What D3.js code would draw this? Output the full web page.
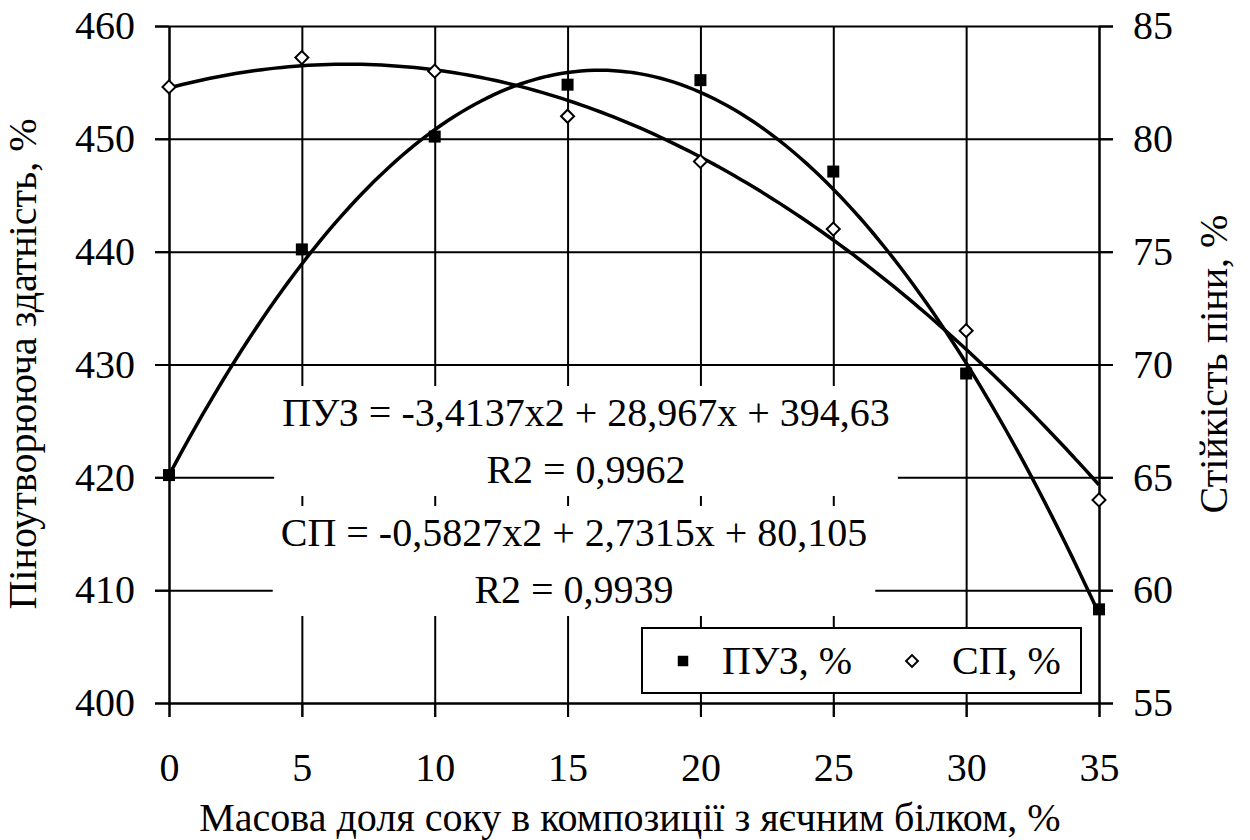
<!DOCTYPE html>
<html>
<head>
<meta charset="utf-8">
<script src="https://cdn.jsdelivr.net/npm/d3@7"></script>
</head>
<body style="margin:0; background:#fff">
<svg id="chart" width="1250" height="840" font-family="Liberation Serif"></svg>
<script>
// data
var shares = [0, 5, 10, 15, 20, 25, 30, 35];
var puz = [420.2, 440.2, 450.2, 454.8, 455.2, 447.1, 429.2, 408.3];
var sp = [82.3, 83.6, 83.0, 81.0, 79.0, 76.0, 71.5, 64.0];
var leftTicks = [400, 410, 420, 430, 440, 450, 460];
var rightTicks = [55, 60, 65, 70, 75, 80, 85];
// trendline coefficients as printed (x = point number 1..8)
var puzCoef = [-3.4137, 28.967, 394.63];
var spCoef = [-0.5827, 2.7315, 80.105];
var puzLabel = ["ПУЗ = -3,4137x2 + 28,967x + 394,63", "R2 = 0,9962"];
var spLabel = ["СП = -0,5827x2 + 2,7315x + 80,105", "R2 = 0,9939"];
var legendNames = ["ПУЗ, %", "СП, %"];

var svg = d3.select("#chart");
var pLeft = 169, pRight = 1099, pTop = 26, pBottom = 703;
var fontPx = 40;

var xScale = d3.scaleLinear().domain([0, 35]).range([pLeft, pRight]);
var yL = d3.scaleLinear().domain([400, 460]).range([pBottom, pTop]);
var yR = d3.scaleLinear().domain([55, 85]).range([pBottom, pTop]);

function setFont(sel) {
    sel.attr("font-family", "Liberation Serif")
        .style("font-family", "Liberation Serif")
        .style("font-size", fontPx + "px")
        .attr("fill", "#000");
}

function noLabels(g) {
    g.select(".domain").remove();
    g.selectAll("text").remove();
    g.selectAll("line").attr("stroke", "#000").attr("stroke-width", 2);
}

// horizontal grid, running out past both axes as ticks
svg.append("g")
    .attr("transform", "translate(" + (pRight + 14) + ",0)")
    .call(d3.axisLeft(yL).tickValues(leftTicks).tickSize(pRight - pLeft + 28))
    .call(noLabels);

// vertical grid with ticks below the axis
svg.append("g")
    .attr("transform", "translate(0," + (pBottom + 14) + ")")
    .call(d3.axisTop(xScale).tickValues(shares).tickSize(pBottom - pTop + 14))
    .call(noLabels);

function styleAxis(g) {
    g.attr("font-family", "Liberation Serif");
    g.select(".domain").attr("stroke", "#000").attr("stroke-width", 2);
    g.selectAll("line").attr("stroke", "#000").attr("stroke-width", 2);
    g.selectAll("text").call(setFont);
}

svg.append("g")
    .attr("transform", "translate(" + pLeft + ",0)")
    .call(d3.axisLeft(yL).tickValues(leftTicks).tickSize(14).tickPadding(20).tickSizeOuter(0))
    .call(styleAxis);

svg.append("g")
    .attr("transform", "translate(" + pRight + ",0)")
    .call(d3.axisRight(yR).tickValues(rightTicks).tickSize(14).tickPadding(20).tickSizeOuter(0))
    .call(styleAxis);

svg.append("g")
    .attr("transform", "translate(0," + pBottom + ")")
    .call(d3.axisBottom(xScale).tickValues(shares).tickSize(14).tickPadding(36).tickSizeOuter(0))
    .call(styleAxis);

// axis titles
svg.append("text")
    .attr("transform", "translate(36,364) rotate(-90)")
    .attr("text-anchor", "middle")
    .call(setFont)
    .text("Піноутворююча здатність, %");

svg.append("text")
    .attr("transform", "translate(1227,364) rotate(-90)")
    .attr("text-anchor", "middle")
    .call(setFont)
    .text("Стійкість піни, %");

svg.append("text")
    .attr("x", 630).attr("y", 831)
    .attr("text-anchor", "middle")
    .call(setFont)
    .text("Масова доля соку в композиції з яєчним білком, %");

// trendlines from the printed equations
function trend(coef) {
    var pts = d3.range(1, 8.001, 0.05);
    return pts.map(function (i) {
        return [(i - 1) * 5, coef[0] * i * i + coef[1] * i + coef[2]];
    });
}

var lineL = d3.line().x(function (d) { return xScale(d[0]); }).y(function (d) { return yL(d[1]); });
var lineR = d3.line().x(function (d) { return xScale(d[0]); }).y(function (d) { return yR(d[1]); });

svg.append("path").datum(trend(puzCoef))
    .attr("d", lineL).attr("fill", "none").attr("stroke", "#000").attr("stroke-width", 3.5);
svg.append("path").datum(trend(spCoef))
    .attr("d", lineR).attr("fill", "none").attr("stroke", "#000").attr("stroke-width", 3.5);

// markers
var square = d3.symbol().type(d3.symbolSquare).size(144);
var diamond = d3.symbol().type(d3.symbolSquare).size(85);

svg.selectAll(".puz").data(shares).enter().append("path")
    .attr("class", "puz")
    .attr("d", square)
    .attr("transform", function (d, i) { return "translate(" + xScale(d) + "," + yL(puz[i]) + ")"; })
    .attr("fill", "#000");

svg.selectAll(".sp").data(shares).enter().append("path")
    .attr("class", "sp")
    .attr("d", diamond)
    .attr("transform", function (d, i) { return "translate(" + xScale(d) + "," + yR(sp[i]) + ") rotate(45)"; })
    .attr("fill", "#fff").attr("stroke", "#000").attr("stroke-width", 2);

// equation labels on white boxes
function eqLabel(lines, cx, baselines) {
    var g = svg.append("g");
    var bg = g.append("rect").attr("fill", "#fff");
    g.selectAll("text").data(lines).enter().append("text")
        .attr("x", cx)
        .attr("y", function (d, i) { return baselines[i]; })
        .attr("text-anchor", "middle")
        .call(setFont)
        .text(function (d) { return d; });
    var bb = g.node().getBBox();
    bg.attr("x", bb.x - 8).attr("y", bb.y - 4).attr("width", bb.width + 16).attr("height", bb.height + 8);
}
eqLabel(puzLabel, 586, [426, 483]);
eqLabel(spLabel, 574, [546, 603]);

// legend
var leg = svg.append("g");
leg.append("rect")
    .attr("x", 642).attr("y", 628).attr("width", 439).attr("height", 65)
    .attr("fill", "#fff").attr("stroke", "#000").attr("stroke-width", 2);
leg.append("path").attr("d", d3.symbol().type(d3.symbolSquare).size(110))
    .attr("transform", "translate(683,661)").attr("fill", "#000");
leg.append("text").attr("x", 722).attr("y", 674).call(setFont).text(legendNames[0]);
leg.append("path").attr("d", d3.symbol().type(d3.symbolSquare).size(70))
    .attr("transform", "translate(912,661) rotate(45)")
    .attr("fill", "#fff").attr("stroke", "#000").attr("stroke-width", 2);
leg.append("text").attr("x", 952).attr("y", 674).call(setFont).text(legendNames[1]);
</script>
</body>
</html>
